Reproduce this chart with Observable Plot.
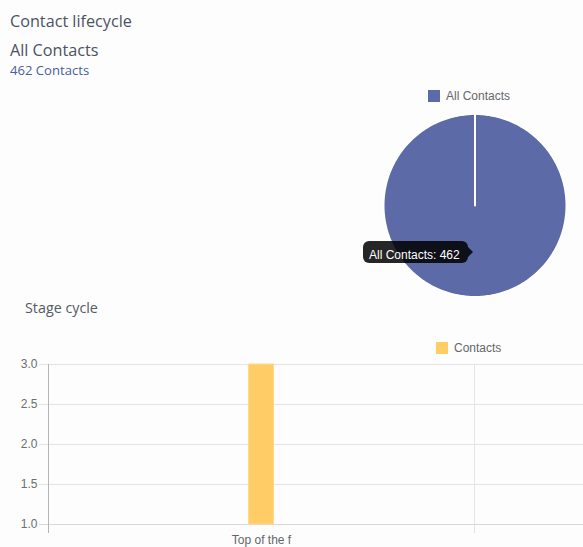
<!DOCTYPE html>
<html><head><meta charset="utf-8">
<script src="https://cdn.jsdelivr.net/npm/d3@7"></script>
<script src="https://cdn.jsdelivr.net/npm/@observablehq/plot@0.6"></script>
<style>
html,body{margin:0;padding:0;background:#fdfdfe;overflow:hidden}
#page{position:relative;width:583px;height:547px;overflow:hidden;font-family:"Open Sans",sans-serif;background:#fdfdfe}
.abs{position:absolute;white-space:nowrap;line-height:1}
.abs svg{overflow:hidden}
</style></head><body><div id="page"></div>
<script>
// ---- data ----
const pageTitle = "Contact lifecycle";
const pieTitle = "All Contacts";
const pieSubtitle = "462 Contacts";
const pieLabels = ["All Contacts"];
const pieValues = [462];
const barTitle = "Stage cycle";
const barSeries = "Contacts";
const barCategories = ["Top of the f", ""];
const barValues = [3, null];
const yTicks = [1.0, 1.5, 2.0, 2.5, 3.0];

const pieColor = "#5c6ba8";
const barColor = "#ffcc66";
const chartFont = "'Liberation Sans', Arial, sans-serif";

const page = document.getElementById("page");
function addText(txt, left, top, size, color) {
  const d = document.createElement("div");
  d.className = "abs";
  d.textContent = txt;
  Object.assign(d.style, {left: left + "px", top: top + "px", fontSize: size + "px", color});
  page.appendChild(d);
  return d;
}
function place(el, left, top) {
  const w = document.createElement("div");
  w.className = "abs";
  w.style.left = left + "px"; w.style.top = top + "px";
  w.appendChild(el);
  page.appendChild(w);
  return w;
}

addText(pageTitle, 10, 12.5, 16.2, "#4b5262");
addText(pieTitle, 10, 41.8, 16.2, "#4b5262");
addText(pieSubtitle, 10, 63.6, 13.1, "#4a5e9c");
addText(barTitle, 25, 300.6, 14.3, "#555a63");

// ---- pie (single slice) ----
const arcs = d3.pie().sort(null)(pieValues);
const piePts = [];
arcs.forEach((a, k) => {
  piePts.push({x: 0, y: 0, label: pieLabels[k]});
  const n = Math.max(2, Math.ceil((a.endAngle - a.startAngle) / (Math.PI / 180)));
  for (let j = 0; j <= n; j++) {
    const t = a.startAngle + (a.endAngle - a.startAngle) * j / n;
    piePts.push({x: Math.sin(t), y: Math.cos(t), label: pieLabels[k]});
  }
  piePts.push({x: 0, y: 0, label: pieLabels[k]});
});
const pie = Plot.plot({
  width: 243, height: 230,
  margin: 0,
  x: {domain: [-1, 1], range: [43, 226], axis: null},
  y: {domain: [-1, 1], range: [216.5, 33.5], axis: null},
  style: {background: "transparent", overflow: "hidden"},
  marks: [
    Plot.line(piePts, {x: "x", y: "y", z: "label", fill: pieColor, stroke: "white", strokeWidth: 2, strokeLinejoin: "round", curve: "linear"})
  ]
});
place(pie, 340, 80);

const pieLegend = Plot.legend({
  color: {type: "ordinal", domain: pieLabels, range: [pieColor]},
  legend: "swatches", swatchSize: 12,
  style: {fontFamily: chartFont, fontSize: "12px", color: "#666", background: "transparent"}
});
place(pieLegend, 428, 79);

// tooltip
const tip = document.createElement("div");
tip.className = "abs";
Object.assign(tip.style, {left: "363px", top: "241px", width: "105px", height: "22px", background: "rgba(0,0,0,0.85)", borderRadius: "6px", color: "#fff", font: "12px " + chartFont, lineHeight: "22px", paddingLeft: "6px", boxSizing: "border-box"});
const tipText = document.createElement("span");
Object.assign(tipText.style, {position: "relative", top: "2.5px"});
tipText.textContent = pieLabels[0] + ": " + pieValues[0];
tip.appendChild(tipText);
const caret = document.createElement("div");
Object.assign(caret.style, {position: "absolute", left: "105px", top: "6px", width: 0, height: 0, borderTop: "5px solid transparent", borderBottom: "5px solid transparent", borderLeft: "5px solid rgba(0,0,0,0.85)"});
tip.appendChild(caret);
page.appendChild(tip);

// ---- bar chart ----
const barData = barCategories.map((c, i) => ({cat: c, i, value: barValues[i]}));
const bar = Plot.plot({
  width: 583, height: 217,
  marginLeft: 48, marginRight: 0, marginTop: 34, marginBottom: 23,
  x: {domain: [0, barCategories.length], range: [48, 900], axis: null},
  y: {domain: [yTicks[0], yTicks[yTicks.length - 1]], ticks: yTicks, tickSize: 0, tickPadding: 11, tickFormat: d3.format(".1f"), label: null},
  style: {background: "transparent", fontFamily: chartFont, fontSize: "12px", color: "#6e6e6e", overflow: "hidden"},
  marks: [
    Plot.ruleY(yTicks, {stroke: "#e4e4e4", insetLeft: -9}),
    Plot.ruleX(barData.slice(1), {x: "i", stroke: "#e4e4e4", insetBottom: -9}),
    Plot.ruleY([yTicks[0]], {stroke: "#d8d8d8", insetLeft: -9}),
    Plot.ruleX(barData.slice(0, 1), {x: "i", stroke: "#b5b5b5", insetBottom: -9}),
    Plot.rectY(barData.filter(d => d.value != null), {x1: "i", x2: d => d.i + 1, y1: yTicks[0], y2: "value", fill: barColor, stroke: "#ffd890", strokeWidth: 1, insetLeft: 200.5, insetRight: 200.5}),
    Plot.text(barData, {x: d => d.i + 0.5, frameAnchor: "bottom", text: "cat", lineAnchor: "top", dy: 11, fill: "#666", fontSize: 12})
  ]
});
place(bar, 0, 330);

const barLegend = Plot.legend({
  color: {type: "ordinal", domain: [barSeries], range: [barColor]},
  legend: "swatches", swatchSize: 12,
  style: {fontFamily: chartFont, fontSize: "12px", color: "#666", background: "transparent"}
});
place(barLegend, 436, 331);
</script>
</body></html>
